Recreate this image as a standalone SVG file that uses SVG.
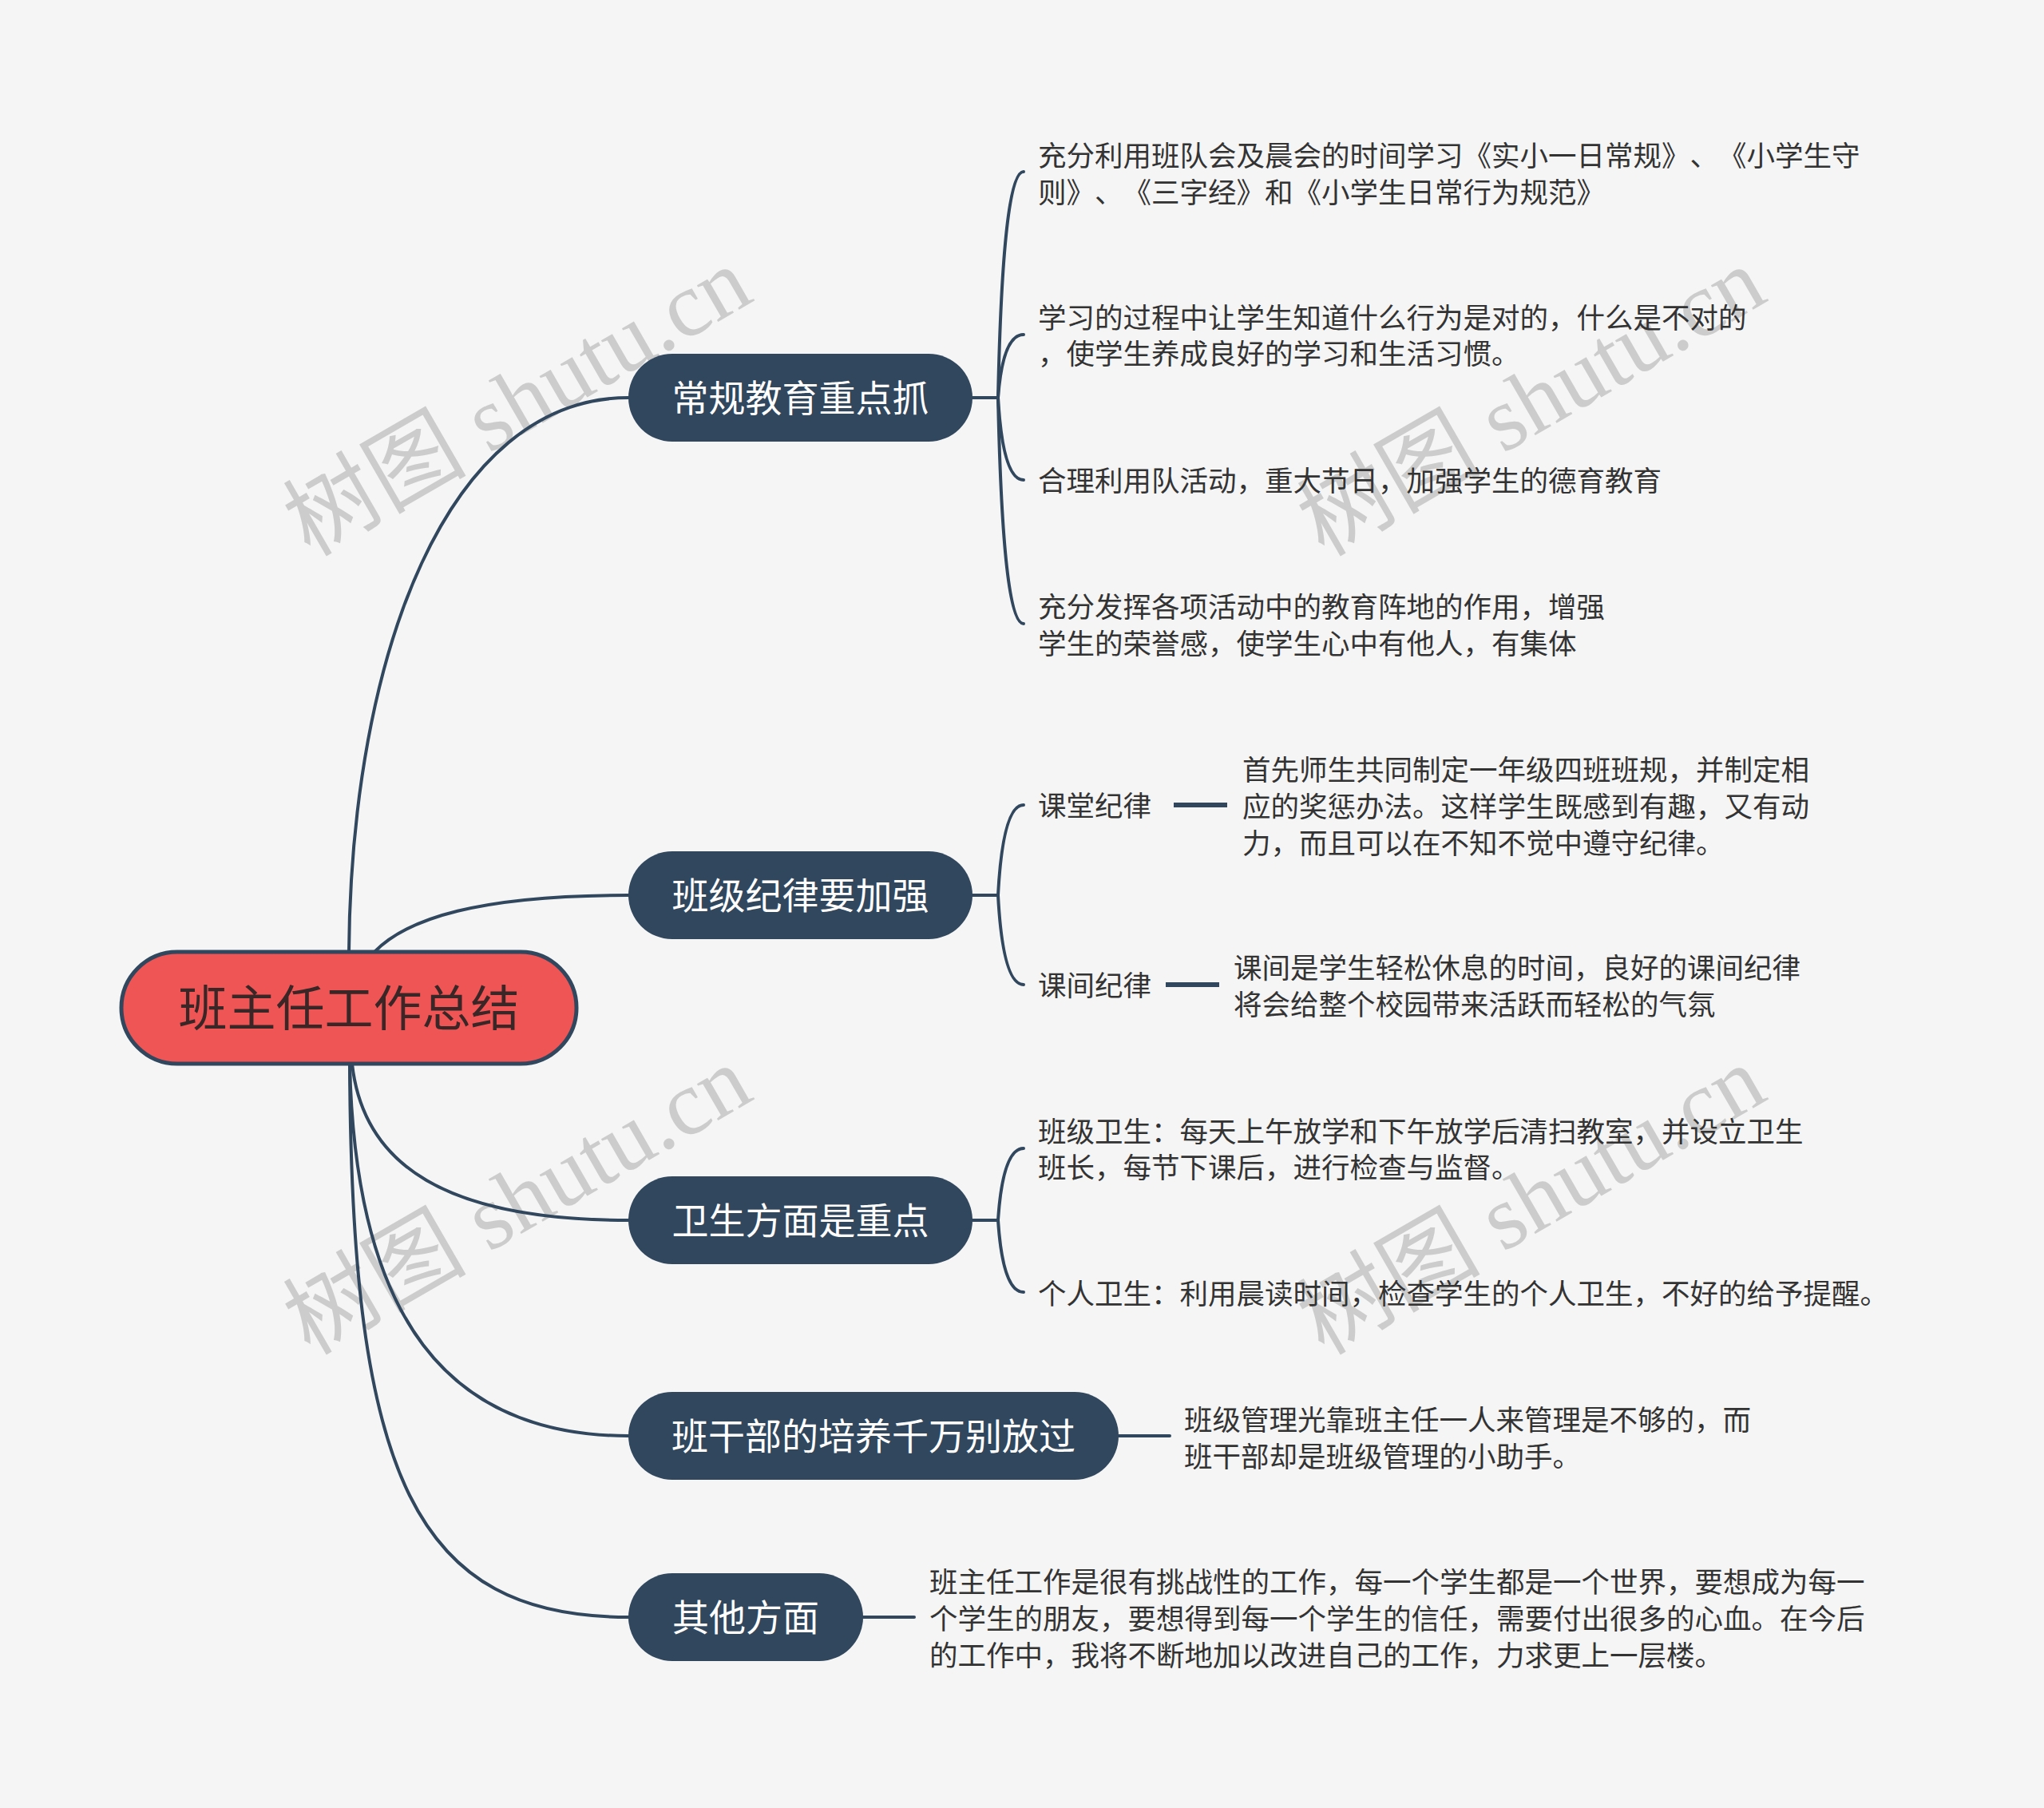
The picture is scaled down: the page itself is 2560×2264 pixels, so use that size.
<svg xmlns="http://www.w3.org/2000/svg" width="2560" height="2264" viewBox="0 0 2560 2264">
<style>
.wm{font-family:"Liberation Serif","Noto Sans CJK SC",serif;font-size:115px;fill:#cccccc}
.line{fill:none;stroke:#30475e;stroke-width:4;stroke-linecap:round}
.stub{fill:none;stroke:#30475e;stroke-width:6}
.node rect{fill:#30475e}
.node text{font-family:"Noto Sans CJK SC","Noto Sans",sans-serif;font-size:46px;fill:#ffffff;text-anchor:middle}
.leaf{font-family:"Noto Sans CJK SC","Noto Sans",sans-serif;font-size:35.5px;fill:#333333;text-spacing-trim:space-all}
</style>
<rect x="0" y="0" width="2560" height="2264" fill="#f5f5f5"/>
<g id="watermarks">
<text class="wm" transform="translate(388,698) rotate(-30)">树图 shutu.cn</text>
<text class="wm" transform="translate(1658,698) rotate(-30)">树图 shutu.cn</text>
<text class="wm" transform="translate(388,1698) rotate(-30)">树图 shutu.cn</text>
<text class="wm" transform="translate(1658,1698) rotate(-30)">树图 shutu.cn</text>
</g>
<g id="connectors">
<path class="line" d="M437 1192 C440 820 560 498 787 498"/>
<path class="line" d="M469 1192 C510 1150 600 1121 787 1121"/>
<path class="line" d="M441 1332 C455 1460 560 1528 787 1528"/>
<path class="line" d="M438 1332 C445 1650 560 1798 787 1798"/>
<path class="line" d="M438 1332 C440 1850 520 2025 787 2025"/>
<path class="line" d="M1218 498 L1250 498"/>
<path class="line" d="M1250 498 Q1256 215 1282 215"/>
<path class="line" d="M1250 498 Q1256 419 1282 419"/>
<path class="line" d="M1250 498 Q1256 601 1282 601"/>
<path class="line" d="M1250 498 Q1256 781 1282 781"/>
<path class="line" d="M1218 1121 L1250 1121"/>
<path class="line" d="M1250 1121 Q1256 1008 1282 1008"/>
<path class="line" d="M1250 1121 Q1256 1233 1282 1233"/>
<path class="stub" d="M1470 1008 L1537 1008"/>
<path class="stub" d="M1460 1233 L1527 1233"/>
<path class="line" d="M1218 1528 L1250 1528"/>
<path class="line" d="M1250 1528 Q1256 1438 1282 1438"/>
<path class="line" d="M1250 1528 Q1256 1618 1282 1618"/>
<path class="line" d="M1401 1798 L1465 1798"/>
<path class="line" d="M1081 2025 L1145 2025"/>
</g>
<g id="root">
<rect x="152" y="1192" width="570" height="140" rx="70" fill="#ef5555" stroke="#30475e" stroke-width="5"/>
<text x="437" y="1285" font-family="Noto Sans CJK SC, Noto Sans, sans-serif" font-size="61" fill="#3a2626" text-anchor="middle">班主任工作总结</text>
</g>
<g id="n1" class="node"><rect x="787" y="443" width="431" height="110" rx="55"/><text x="1002.5" y="515">常规教育重点抓</text></g>
<g id="n2" class="node"><rect x="787" y="1066" width="431" height="110" rx="55"/><text x="1002.5" y="1138">班级纪律要加强</text></g>
<g id="n3" class="node"><rect x="787" y="1473" width="431" height="110" rx="55"/><text x="1002.5" y="1545">卫生方面是重点</text></g>
<g id="n4" class="node"><rect x="787" y="1743" width="614" height="110" rx="55"/><text x="1094" y="1815">班干部的培养千万别放过</text></g>
<g id="n5" class="node"><rect x="787" y="1970" width="294" height="110" rx="55"/><text x="934" y="2042">其他方面</text></g>
<g id="n1c1"><text class="leaf" x="1300" y="208">充分利用班队会及晨会的时间学习《实小一日常规》、《小学生守</text><text class="leaf" x="1300" y="254">则》、《三字经》和《小学生日常行为规范》</text></g>
<g id="n1c2"><text class="leaf" x="1300" y="411">学习的过程中让学生知道什么行为是对的，什么是不对的</text><text class="leaf" x="1300" y="456">，使学生养成良好的学习和生活习惯。</text></g>
<g id="n1c3"><text class="leaf" x="1300" y="615">合理利用队活动，重大节日，加强学生的德育教育</text></g>
<g id="n1c4"><text class="leaf" x="1300" y="773">充分发挥各项活动中的教育阵地的作用，增强</text><text class="leaf" x="1300" y="819">学生的荣誉感，使学生心中有他人，有集体</text></g>
<g id="n2c1"><text class="leaf" x="1300" y="1022">课堂纪律</text></g>
<g id="n2c1d"><text class="leaf" x="1556" y="977">首先师生共同制定一年级四班班规，并制定相</text><text class="leaf" x="1556" y="1023">应的奖惩办法。这样学生既感到有趣，又有动</text><text class="leaf" x="1556" y="1069">力，而且可以在不知不觉中遵守纪律。</text></g>
<g id="n2c2"><text class="leaf" x="1300" y="1247">课间纪律</text></g>
<g id="n2c2d"><text class="leaf" x="1545" y="1225">课间是学生轻松休息的时间，良好的课间纪律</text><text class="leaf" x="1545" y="1271">将会给整个校园带来活跃而轻松的气氛</text></g>
<g id="n3c1"><text class="leaf" x="1300" y="1430">班级卫生：每天上午放学和下午放学后清扫教室，并设立卫生</text><text class="leaf" x="1300" y="1475">班长，每节下课后，进行检查与监督。</text></g>
<g id="n3c2"><text class="leaf" x="1300" y="1633">个人卫生：利用晨读时间，检查学生的个人卫生，不好的给予提醒。</text></g>
<g id="n4c1"><text class="leaf" x="1483" y="1791">班级管理光靠班主任一人来管理是不够的，而</text><text class="leaf" x="1483" y="1837">班干部却是班级管理的小助手。</text></g>
<g id="n5c1"><text class="leaf" x="1164" y="1994">班主任工作是很有挑战性的工作，每一个学生都是一个世界，要想成为每一</text><text class="leaf" x="1164" y="2040">个学生的朋友，要想得到每一个学生的信任，需要付出很多的心血。在今后</text><text class="leaf" x="1164" y="2086">的工作中，我将不断地加以改进自己的工作，力求更上一层楼。</text></g>
</svg>
